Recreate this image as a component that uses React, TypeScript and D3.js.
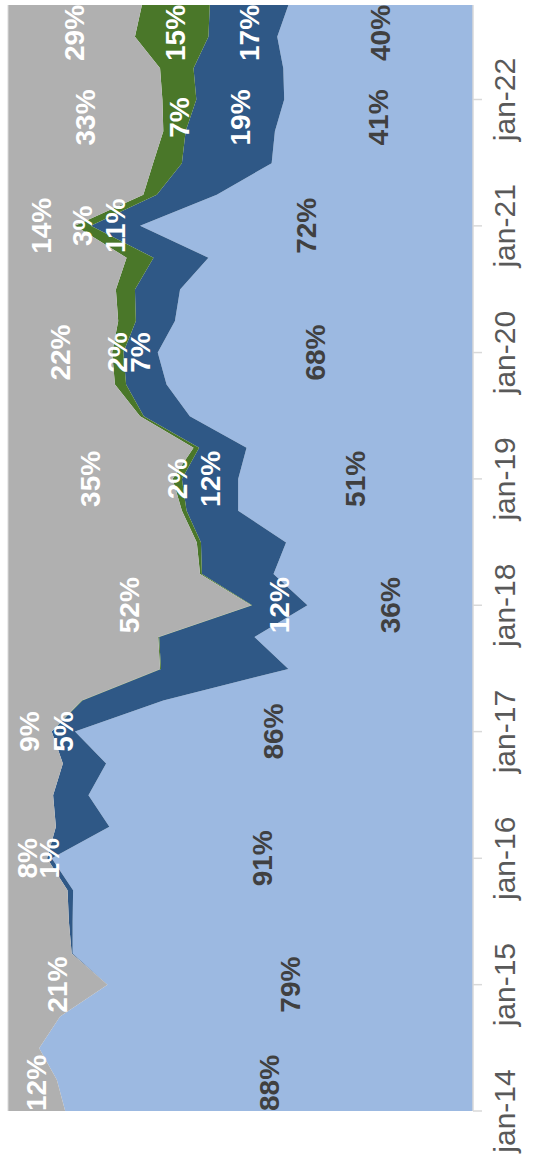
import React from "react";
import * as d3 from "d3";

// Quarterly observations, January 2014 to October 2022
const quarters = [
  "2014-01", "2014-04", "2014-07", "2014-10",
  "2015-01", "2015-04", "2015-07", "2015-10",
  "2016-01", "2016-04", "2016-07", "2016-10",
  "2017-01", "2017-04", "2017-07", "2017-10",
  "2018-01", "2018-04", "2018-07", "2018-10",
  "2019-01", "2019-04", "2019-07", "2019-10",
  "2020-01", "2020-04", "2020-07", "2020-10",
  "2021-01", "2021-04", "2021-07", "2021-10",
  "2022-01", "2022-04", "2022-07", "2022-10",
];

// Shares (%) per quarter for each of the four groups
const greyShare = [
  12.3, 10.5, 6.7, 11.2, 21.4, 13.7, 13.1, 12.8, 8.4, 10.3, 9.7, 11.8,
  9.4, 15.8, 32.7, 32.3, 52.3, 41.3, 40.6, 37.4, 35.4, 39.9, 28.4, 23.0,
  22.4, 23.7, 23.2, 25.5, 14.4, 29.1, 31.2, 33.4, 33.2, 32.7, 27.3, 28.8,
];
const greenShare = [
  0, 0, 0, 0, 0, 0, 0, 0, 0, 0, 0, 0,
  0, 0.2, 0.2, 0.2, 0.2, 0.4, 0.9, 1.0, 2.0, 1.2, 0.8, 2.4,
  2.4, 3.8, 4.1, 5.8, 3.4, 2.9, 6.2, 4.8, 7.3, 7.2, 15.8, 14.6,
];
const navyShare = [
  0, 0, 0, 0, 0, 0.2, 0.8, 1.2, 1.0, 11.5, 7.6, 9.3,
  5.0, 17.4, 27.4, 20.5, 11.9, 15.4, 18.3, 11.1, 12.1, 10.2, 9.9, 8.7,
  7.4, 8.4, 9.7, 11.8, 10.6, 12.9, 19.3, 19.2, 18.9, 19.3, 14.8, 16.9,
];
const skyShare = [
  87.7, 89.5, 93.3, 88.8, 78.6, 86.1, 86.1, 86.0, 90.6, 78.2, 82.7, 78.9,
  85.6, 66.6, 39.7, 47.0, 35.6, 42.9, 40.2, 50.5, 50.5, 48.7, 60.9, 65.9,
  67.8, 64.1, 63.0, 56.9, 71.6, 55.1, 43.3, 42.6, 40.6, 40.8, 42.1, 39.7,
];

// Axis ticks and the quarters that carry value labels
const yearTicks = [
  "2014-01", "2015-01", "2016-01", "2017-01", "2018-01",
  "2019-01", "2020-01", "2021-01", "2022-01",
];
const labelledQuarters = [
  "2014-01", "2015-01", "2016-01", "2017-01", "2018-01",
  "2019-01", "2020-01", "2021-01", "2022-01", "2022-10",
];

const WIDTH = 541;
const HEIGHT = 1168;
const plot = { left: 8, right: 473, top: 5, bottom: 1111 };

const keys = ["sky", "navy", "green", "grey"] as const;
const fills: Record<string, string> = {
  sky: "#9cb9e1",
  navy: "#2f5886",
  green: "#4a7729",
  grey: "#b0b0b0",
};
const labelColors: Record<string, string> = {
  sky: "#404040",
  navy: "#ffffff",
  green: "#ffffff",
  grey: "#ffffff",
};
// Label groups moved along the time axis (pixels)
const labelShift: Record<string, number> = { "2022-01": 18 };

const FONT = "'Liberation Sans', Arial, Helvetica, sans-serif";

type Row = { date: Date; sky: number; navy: number; green: number; grey: number };

export default function App() {
  const parse = d3.timeParse("%Y-%m");
  const rows: Row[] = quarters.map((q, i) => ({
    date: parse(q) as Date,
    sky: skyShare[i],
    navy: navyShare[i],
    green: greenShare[i],
    grey: greyShare[i],
  }));

  const stacked = d3
    .stack<Row>()
    .keys(keys as unknown as string[])
    .offset(d3.stackOffsetExpand)(rows);

  const y = d3
    .scaleTime()
    .domain(d3.extent(rows, (d) => d.date) as [Date, Date])
    .range([plot.bottom, plot.top]);
  const x = d3.scaleLinear().domain([0, 1]).range([plot.right, plot.left]);

  const area = d3
    .area<d3.SeriesPoint<Row>>()
    .y((d) => y(d.data.date))
    .x0((d) => x(d[0]))
    .x1((d) => x(d[1]));

  const fmtTick = (d: Date) => d3.timeFormat("%b-%y")(d).toLowerCase();

  const halfLabel = 28;
  const labels: { key: string; x: number; y: number; text: string }[] = [];
  labelledQuarters.forEach((q) => {
    const i = quarters.indexOf(q);
    const cy0 = y(rows[i].date) + (labelShift[q] || 0);
    const cy = Math.max(plot.top + halfLabel, Math.min(plot.bottom - halfLabel, cy0));
    stacked.forEach((s) => {
      const v = (rows[i] as any)[s.key] as number;
      if (Math.round(v) < 1) return;
      const p = s[i];
      labels.push({
        key: s.key,
        x: (x(p[0]) + x(p[1])) / 2,
        y: cy,
        text: `${Math.round(v)}%`,
      });
    });
  });

  return (
    <svg
      width={WIDTH}
      height={HEIGHT}
      style={{ position: "absolute", left: 0, top: 0, display: "block", background: "#ffffff" }}
    >
      <g>
        {stacked.map((s) => (
          <path key={s.key} d={area(s) || ""} fill={fills[s.key]} stroke="none" />
        ))}
      </g>
      <line
        x1={plot.left}
        x2={plot.left}
        y1={plot.top}
        y2={plot.bottom}
        stroke="#d9d9d9"
        strokeWidth={1}
      />
      <line
        x1={plot.right}
        x2={plot.right}
        y1={plot.top}
        y2={plot.bottom}
        stroke="#d9d9d9"
        strokeWidth={1.5}
      />
      {yearTicks.map((t) => {
        const d = parse(t) as Date;
        const ty = y(d);
        return (
          <g key={t}>
            <line x1={plot.right} x2={plot.right + 9} y1={ty} y2={ty} stroke="#d9d9d9" strokeWidth={1.5} />
            <text
              transform={`translate(515, ${ty}) rotate(-90)`}
              textAnchor="middle"
              fontFamily={FONT}
              fontSize={30}
              fill="#595959"
            >
              {fmtTick(d)}
            </text>
          </g>
        );
      })}
      {labels.map((l, i) => (
        <text
          key={i}
          transform={`translate(${l.x}, ${l.y}) rotate(-90)`}
          textAnchor="middle"
          dominantBaseline="central"
          fontFamily={FONT}
          fontWeight="bold"
          fontSize={28}
          fill={labelColors[l.key]}
        >
          {l.text}
        </text>
      ))}
    </svg>
  );
}
